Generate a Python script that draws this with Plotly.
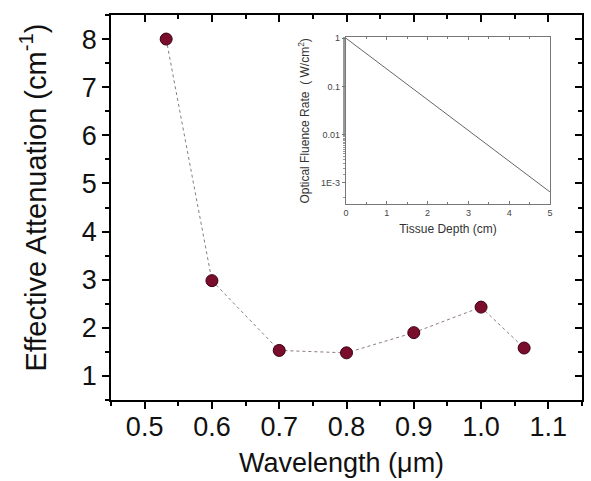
import plotly.graph_objects as go

# Main data
wavelength = [0.532, 0.6, 0.7, 0.8, 0.9, 1.0, 1.064]
attenuation = [8.0, 2.98, 1.53, 1.48, 1.90, 2.43, 1.58]

# Inset data
depth = [0, 1, 2, 3, 4, 5]
fluence = [1.0, 0.23, 0.052, 0.012, 0.0028, 0.00065]

x_ticks = [0.5, 0.6, 0.7, 0.8, 0.9, 1.0, 1.1]
x_ticklabels = ["0.5", "0.6", "0.7", "0.8", "0.9", "1.0", "1.1"]
y_ticks = [1, 2, 3, 4, 5, 6, 7, 8]
inset_xticks = [0, 1, 2, 3, 4, 5]
inset_yticks = [1, 0.1, 0.01, 0.001]
inset_yticklabels = ["1", "0.1", "0.01", "1E-3"]

x_title = "Wavelength (\u03bcm)"
y_title = "Effective Attenuation (cm<sup>-1</sup>)"

FONT = "Liberation Sans, Arial, sans-serif"

fig = go.Figure()

fig.add_trace(go.Scatter(
    x=wavelength, y=attenuation, mode="lines+markers",
    line=dict(color="#8a7a80", width=1, dash="dot"),
    marker=dict(size=12, color="#7a0c2c", line=dict(color="#3a0010", width=1)),
    xaxis="x", yaxis="y", showlegend=False,
))

# invisible trace for mirror axes
fig.add_trace(go.Scatter(x=[0.45, 1.15], y=[0.5, 8.5], mode="markers",
                         marker=dict(opacity=0), xaxis="x3", yaxis="y3",
                         showlegend=False, hoverinfo="skip"))

fig.add_trace(go.Scatter(
    x=depth, y=fluence, mode="lines",
    line=dict(color="#666666", width=1),
    xaxis="x2", yaxis="y2", showlegend=False,
))

axis_common = dict(showgrid=False, zeroline=False, showline=True,
                   linecolor="black", linewidth=1.5)

fig.update_layout(
    width=591, height=481,
    margin=dict(l=111, r=6, t=15, b=81),
    paper_bgcolor="white", plot_bgcolor="white",
    font=dict(family=FONT, color="black"),
    xaxis=dict(
        **axis_common, range=[0.45, 1.15], domain=[0, 1],
        tickvals=x_ticks, ticktext=x_ticklabels,
        ticks="outside", ticklen=7, tickwidth=1.5, tickcolor="black",
        minor=dict(dtick=0.05, tick0=0.45, ticks="outside", ticklen=4, tickwidth=1.5, tickcolor="black"),
        tickfont=dict(size=27, family=FONT, color="#111111"),
        ticklabelstandoff=-5,
    ),
    yaxis=dict(
        **axis_common, range=[0.5, 8.5], domain=[0, 1],
        tickvals=y_ticks,
        ticks="outside", ticklen=7, tickwidth=1.5, tickcolor="black",
        minor=dict(dtick=0.5, tick0=0.5, ticks="outside", ticklen=4, tickwidth=1.5, tickcolor="black"),
        tickfont=dict(size=27, family=FONT, color="#111111"),
    ),
    xaxis3=dict(
        **axis_common, range=[0.45, 1.15], overlaying="x", side="top",
        tickvals=x_ticks, showticklabels=False,
        ticks="inside", ticklen=7, tickwidth=1.5, tickcolor="black",
        minor=dict(dtick=0.05, tick0=0.45, ticks="inside", ticklen=4, tickwidth=1.5, tickcolor="black"),
        anchor="y3",
    ),
    yaxis3=dict(
        **axis_common, range=[0.5, 8.5], overlaying="y", side="right",
        tickvals=y_ticks, showticklabels=False,
        ticks="inside", ticklen=7, tickwidth=1.5, tickcolor="black",
        minor=dict(dtick=0.5, tick0=0.5, ticks="inside", ticklen=4, tickwidth=1.5, tickcolor="black"),
        anchor="x3",
    ),
    xaxis2=dict(
        showgrid=False, zeroline=False, showline=True, mirror="ticks",
        linecolor="#777777", linewidth=1.2,
        domain=[0.499, 0.932], anchor="y2", range=[0, 5],
        tickvals=inset_xticks,
        ticks="inside", ticklen=3, tickcolor="#777777",
        minor=dict(dtick=0.5, ticks="inside", ticklen=2, tickcolor="#777777"),
        tickfont=dict(size=9, family=FONT, color="#444444"),
        title=dict(text="Tissue Depth (cm)", font=dict(size=12, family=FONT, color="#333333"), standoff=7),
    ),
    yaxis2=dict(
        showgrid=False, zeroline=False, showline=True, mirror=True,
        linecolor="#777777", linewidth=1.2,
        type="log", domain=[0.508, 0.942], anchor="x2", range=[-3.446, 0.02],
        tickvals=inset_yticks, ticktext=inset_yticklabels,
        ticks="outside", ticklen=3, tickcolor="#777777",
        minor=dict(ticks="outside", ticklen=2, tickcolor="#999999", showgrid=False),
        tickfont=dict(size=9, family=FONT, color="#444444"),
        title=dict(text="Optical Fluence Rate  ( W/cm<sup>2</sup>)", font=dict(size=12, family=FONT, color="#333333"), standoff=8),
    ),
    annotations=[
        dict(text=x_title, xref="paper", yref="paper", x=0.49, y=-0.164,
             xanchor="center", yanchor="middle", showarrow=False,
             font=dict(size=27, family=FONT, color="#111111")),
        dict(text=y_title, xref="paper", yref="paper", x=-0.1646, y=0.527,
             xanchor="center", yanchor="middle", showarrow=False, textangle=-90,
             font=dict(size=29, family=FONT, color="#111111")),
    ],
)

fig.write_html("out.html")
